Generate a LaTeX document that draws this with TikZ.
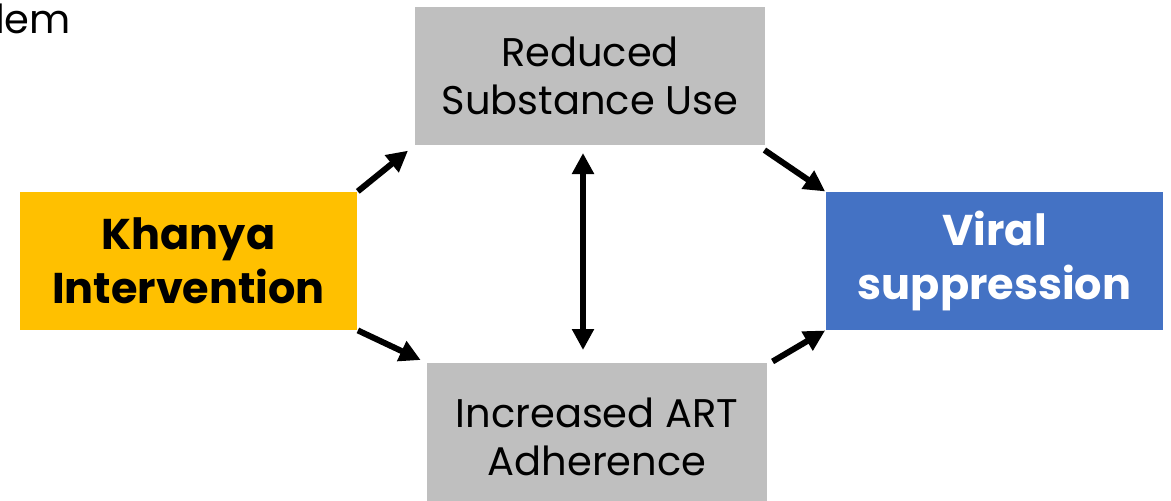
\documentclass[tikz,border=0pt]{standalone}
\usepackage{fontspec}
\setmainfont{Poppins}
\usetikzlibrary{arrows.meta,calc}
\definecolor{boxgray}{HTML}{BFBFBF}
\definecolor{khanyagold}{HTML}{FFC000}
\definecolor{viralblue}{HTML}{4472C4}
\begin{document}
\begin{tikzpicture}[x=1pt,y=-1pt,
  every node/.style={inner sep=0pt, outer sep=0pt},
  graybox/.style={fill=boxgray, align=center, font=\fontsize{40}{48}\selectfont, text=black},
  boldbox/.style={align=center, font=\fontsize{43}{54}\selectfont\bfseries},
  conn/.style={line width=6pt, -{Triangle[length=21pt,width=21pt]}},
  biconn/.style={line width=6pt, {Triangle[length=21pt,width=21pt]}-{Triangle[length=21pt,width=21pt]}}]
\useasboundingbox (0,0) rectangle (1171,501);
\node[anchor=base west, font=\fontsize{40}{48}\selectfont] (lem) at (-5,33) {lem};
\node[graybox, minimum width=350pt, minimum height=138pt] (red) at (590,76) {Reduced\\Substance Use};
\node[graybox, minimum width=340pt, minimum height=148pt] (art) at (597,437) {Increased ART\\Adherence};
\node[boldbox, fill=khanyagold, text=black, minimum width=337pt, minimum height=138pt] (khanya) at (188.5,261) {Khanya\\Intervention};
\node[boldbox, fill=viralblue, text=white, minimum width=337pt, minimum height=138pt] (viral) at (994.5,261) {Viral\\suppression};
\draw[conn, shorten <=1pt, shorten >=9pt] (khanya.north east) -- (red.south west);
\draw[conn, shorten <=1pt, shorten >=7pt] (khanya.south east) -- (art.north west);
\draw[conn, shorten <=9pt, shorten >=1pt] ([xshift=-8pt]red.south east) -- (viral.north west);
\draw[conn, shorten <=3pt, shorten >=1pt] ([xshift=3pt]art.north east) -- (viral.south west);
\coordinate (vtop) at ([xshift=-7pt,yshift=-8pt]red.south);
\coordinate (vbot) at ($(vtop |- art.north)+(0,-13)$);
\draw[biconn] (vtop) -- (vbot);
\end{tikzpicture}
\end{document}
